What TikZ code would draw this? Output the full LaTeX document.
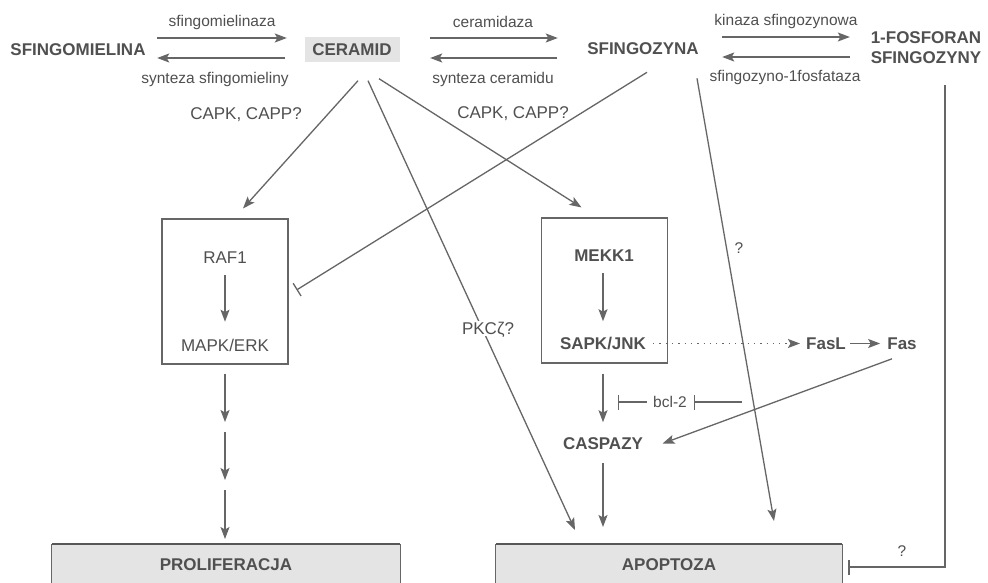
\documentclass[tikz,border=0pt]{standalone}
\usepackage{fontspec}
\setmainfont{Liberation Sans}
\usetikzlibrary{arrows.meta,calc}
\definecolor{ink}{HTML}{505050}
\definecolor{wirecol}{HTML}{666666}
\definecolor{shade}{HTML}{E4E4E4}

\begin{document}
\begin{tikzpicture}[x=1pt,y=-1pt,
  every node/.style={text=ink, inner sep=0pt},
  big/.style={font=\fontsize{17}{20}\selectfont\bfseries, text height=12.2pt, text depth=0pt},
  mid/.style={font=\fontsize{17}{20}\selectfont, text height=12.2pt, text depth=0pt},
  small/.style={font=\fontsize{15.5}{18}\selectfont},
  link/.style={draw=wirecol, line width=1.3pt},
  arr/.style={link, -{Stealth[length=12pt,width=9pt,inset=2.5pt]}},
  inh/.style={link, -{Bar[width=15pt,line width=1.3pt]}},
  panel/.style={draw=wirecol, line width=1.1pt, minimum width=126pt, minimum height=145pt},
  outcome/.style={big, fill=shade, minimum height=40pt, anchor=north},
]
\useasboundingbox[fill=white] (0,0) rectangle (988,583);

% --- top row: metabolites ---
\node[big] (sm) at (78,49) {SFINGOMIELINA};
\node[big, fill=shade, minimum width=95pt, minimum height=25pt] (cer) at (352,49.5) {CERAMID};
\node[big] (sf) at (643,48) {SFINGOZYNA};
\node[font=\fontsize{17}{20}\selectfont\bfseries, align=center] (s1p) at (926,48) {1-FOSFORAN\\SFINGOZYNY};

% enzyme arrows between metabolites
\draw[arr] ([shift={(11.5,-11)}]sm.east) -- ([shift={(-17.5,-11.5)}]cer.west);
\draw[arr] ([shift={(-19.5,8.5)}]cer.west) -- ([shift={(11.5,9)}]sm.east);
\node[small] at (222,22) {sfingomielinaza};
\node[small] at (215,79) {synteza sfingomieliny};

\draw[arr] ([shift={(30.5,-11.5)}]cer.east) -- ([shift={(-29.3,-10)}]sf.west);
\draw[arr] ([shift={(-30.3,10)}]sf.west) -- ([shift={(30.5,8.5)}]cer.east);
\node[small] at (493,22) {ceramidaza};
\node[small] at (493,79) {synteza ceramidu};

\draw[arr] ([shift={(23.3,-11)}]sf.east) -- ([shift={(-20.7,-11)}]s1p.west);
\draw[arr] ([shift={(-20.7,9)}]s1p.west) -- ([shift={(23.3,9)}]sf.east);
\node[small] at (786,21) {kinaza sfingozynowa};
\node[small] at (785,77) {sfingozyno-1fosfataza};

% --- kinase cascades ---
\node[panel] (raf) at (225,291.5) {};
\node[mid] (raf1) at (225,257) {RAF1};
\node[mid] (mapk) at (225,345) {MAPK/ERK};
\draw[arr, shorten <=12pt, shorten >=17pt] (raf1.south) -- (mapk.north);

\node[panel] (mekk) at (604.5,290.5) {};
\node[big] (mekk1) at (604,255) {MEKK1};
\node[big] (sapk) at (603,343.5) {SAPK/JNK};
\draw[arr, shorten <=12pt, shorten >=16pt] (mekk1.south -| sapk) -- (sapk.north);

\node[big] (fasl) at (826,343.5) {FasL};
\node[big] (fas) at (902,343.5) {Fas};
\draw[link, dash pattern=on 1.3pt off 5pt, -{Stealth[length=12pt,width=9pt,inset=2.5pt]},
      shorten <=7pt, shorten >=6pt] (sapk.east) -- (fasl.west);
\draw[arr, shorten <=4pt, shorten >=7pt] (fasl.east) -- (fas.west);

\node[big] (casp) at (603,443.5) {CASPAZY};
\draw[arr, shorten <=10pt, shorten >=15pt] (casp |- mekk.south) -- (casp.north);
\draw[arr] ([shift={(-10,9)}]fas.south) -- ([shift={(19.4,0)}]casp.east);

\node[small] (bcl) at (670,402) {bcl-2};
\coordinate (bclL) at (618,402);
\coordinate (bclR) at (742,402);
\draw[inh, shorten <=6pt] (bcl.west) -- (bclL);
\draw[inh, shorten >=7pt] (bclR) -- (bcl.east);

% --- outcomes ---
\node[outcome, minimum width=348pt] (prol) at (226,544) {PROLIFERACJA};
\node[outcome, minimum width=346pt] (apo) at (669,544) {APOPTOZA};
\foreach \b in {prol,apo}{
  \draw[draw=wirecol, line width=0.8pt] (\b.south west) -- (\b.north west);
  \draw[draw=wirecol, line width=0.8pt] (\b.south east) -- (\b.north east);
  \draw[draw=wirecol!85!black, line width=1.4pt] (\b.north west) -- (\b.north east);
}

% proliferation column
\coordinate (p1) at (225,422);
\coordinate (p2) at (225,432);
\coordinate (p3) at (225,480);
\coordinate (p4) at (225,490);
\draw[arr, shorten <=9pt] (p1 |- raf.south) -- (p1);
\draw[arr] (p2) -- (p3);
\draw[arr, shorten >=5pt] (p4) -- (p4 |- prol.north);

\draw[arr, shorten <=13.4pt, shorten >=17pt] (casp.south) -- (casp |- apo.north);

% --- ceramide effects ---
\node[mid] at (246,113) {CAPK, CAPP?};
\node[mid] at (513,112) {CAPK, CAPP?};
\draw[arr] ([shift={(6,18.5)}]cer.south) -- ([shift={(18,-10)}]raf.north);
\draw[arr] ([shift={(27,16.5)}]cer.south) -- ([shift={(-23,-10)}]mekk.north);
\draw[arr] ([shift={(16,18.5)}]cer.south) -- ([shift={(-94,-14)}]apo.north);
\node[mid, fill=white, inner sep=1.5pt] at (488,328.5) {PKCζ?};

% --- sphingosine effects ---
\draw[inh] ([shift={(4,18)}]sf.south) -- ([shift={(8,-1.5)}]raf.east);
\draw[arr] ([shift={(54,24)}]sf.south) -- ([shift={(105,-23)}]apo.north);
\node[small] at (739,248) {?};

% --- sphingosine-1-phosphate ---
\coordinate (bend) at (945,567);
\draw[inh] ([shift={(19,21)}]s1p.south) -- (bend) -- ([xshift=6pt]apo.east |- bend);
\node[small] at (902,551) {?};
\end{tikzpicture}
\end{document}
